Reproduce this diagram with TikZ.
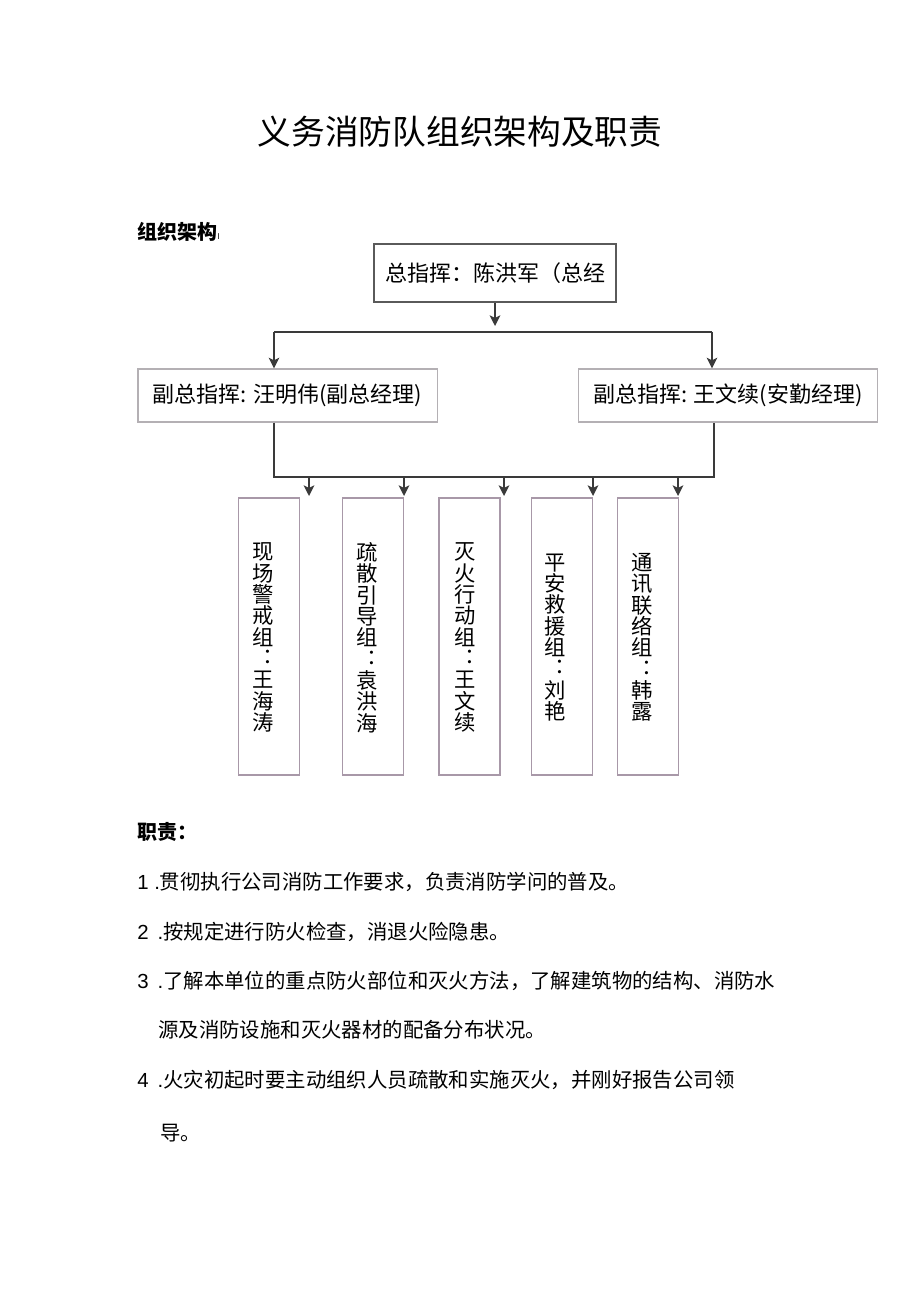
\documentclass[tikz,border=0pt]{standalone}
\usepackage{fontspec}
\setmainfont{Liberation Sans}
\newfontfamily\cjk{Noto Sans CJK SC}
\usetikzlibrary{arrows.meta}
\definecolor{boxdark}{HTML}{5A5A5A}
\definecolor{boxmid}{HTML}{B4B0B4}
\definecolor{boxgrp}{HTML}{A898A8}
\definecolor{linec}{HTML}{3A3A3A}
\begin{document}
\begin{tikzpicture}[x=0.75pt,y=-0.75pt,
  topbox/.style={draw=boxdark, line width=1.2pt, minimum width=181.5pt, minimum height=43.5pt, inner sep=0pt, font=\cjk\fontsize{16.5}{16.5}\selectfont},
  midbox/.style={draw=boxmid, line width=1pt, minimum width=224.5pt, minimum height=39.75pt, inner sep=0pt, font=\cjk\fontsize{16.5}{16.5}\selectfont},
  grpbox/.style={draw=boxgrp, line width=1pt, minimum width=45.75pt, minimum height=207.75pt, inner sep=0pt},
  vtext/.style={font=\cjk\fontsize{16}{16}\selectfont, align=center, inner sep=0pt},
  conn/.style={draw=linec, line width=1.2pt},
  arr/.style={conn, -{Stealth[length=8pt,width=8pt,inset=2pt]}},
  head/.style={font=\cjk\bfseries\fontsize{15}{15}\selectfont, anchor=west, inner sep=0pt},
  body/.style={font=\fontsize{15.3}{15.3}\selectfont, anchor=west, inner sep=0pt}
]
\useasboundingbox[fill=white] (0,0) rectangle (920,1301);

% title
\node[font=\cjk\fontsize{25.3}{25.3}\selectfont] (title) at (460,132) {义务消防队组织架构及职责};
\node[head] (orglabel) at (137,232) {组织架构{\fontsize{6}{6}\selectfont\mdseries I}};

% top box
\node[topbox] (top) at (495,273) {总指挥：陈洪军（总经};
\coordinate (topend) at (495,326);
\draw[arr] (top.south) -- (topend);

% bus 1
\coordinate (b1l) at (274,332);
\coordinate (b1r) at (712,332);
\draw[conn] (b1l) -- (b1r);

% mid boxes
\node[midbox] (vl) at (287.5,395.5) {副总指挥: 汪明伟(副总经理)};
\node[midbox] (vr) at (728,395.5) {副总指挥: 王文续(安勤经理)};
\draw[arr] (b1l) -- (b1l |- vl.north);
\draw[arr] (b1r) -- (b1r |- vr.north);

% bus 2
\coordinate (b2l) at (274,477);
\coordinate (b2r) at (714,477);
\draw[conn] (b2l |- vl.south) -- (b2l) -- (b2r) -- (b2r |- vr.south);

% group boxes
\node[grpbox] (g1) at (269,636.5) {};
\node[grpbox] (g2) at (373,636.5) {};
\node[grpbox] (g3) at (469.5,636.5) {};
\node[grpbox] (g4) at (562,636.5) {};
\node[grpbox] (g5) at (648,636.5) {};

\node[vtext] (t1) at (263,637.5) {现\\场\\警\\戒\\组\\︓\\王\\海\\涛};
\node[vtext] (t2) at (367,637.5) {疏\\散\\引\\导\\组\\︓\\袁\\洪\\海};
\node[vtext] (t3) at (465,637.5) {灭\\火\\行\\动\\组\\︓\\王\\文\\续};
\node[vtext] (t4) at (555,637.5) {平\\安\\救\\援\\组\\︓\\刘\\艳};
\node[vtext] (t5) at (642,637.5) {通\\讯\\联\\络\\组\\︓\\韩\\露};

\coordinate (a1) at (309,477);
\coordinate (a2) at (404,477);
\coordinate (a3) at (504,477);
\coordinate (a4) at (593,477);
\coordinate (a5) at (678,477);
\foreach \a in {a1,a2,a3,a4,a5}
  \draw[arr] (\a) -- ++(0,19);

% duties
\node[head] (duty) at (137,832) {职责：};
\node[body] (l1) at (137,882) {1 .{\cjk 贯彻执行公司消防工作要求，负责消防学问的普及。}};
\node[body] (l2) at (137,932) {2 \,.{\cjk 按规定进行防火检查，消退火险隐患。}};
\node[body] (l3) at (137,981) {3 \,.{\cjk 了解本单位的重点防火部位和灭火方法，了解建筑物的结构、消防水}};
\node[body] (l3b) at (158,1030) {{\cjk 源及消防设施和灭火器材的配备分布状况。}};
\node[body] (l4) at (137,1080) {4 \,.{\cjk 火灾初起时要主动组织人员疏散和实施灭火，并刚好报告公司领}};
\node[body] (l4b) at (160,1133) {{\cjk 导。}};
\end{tikzpicture}
\end{document}
